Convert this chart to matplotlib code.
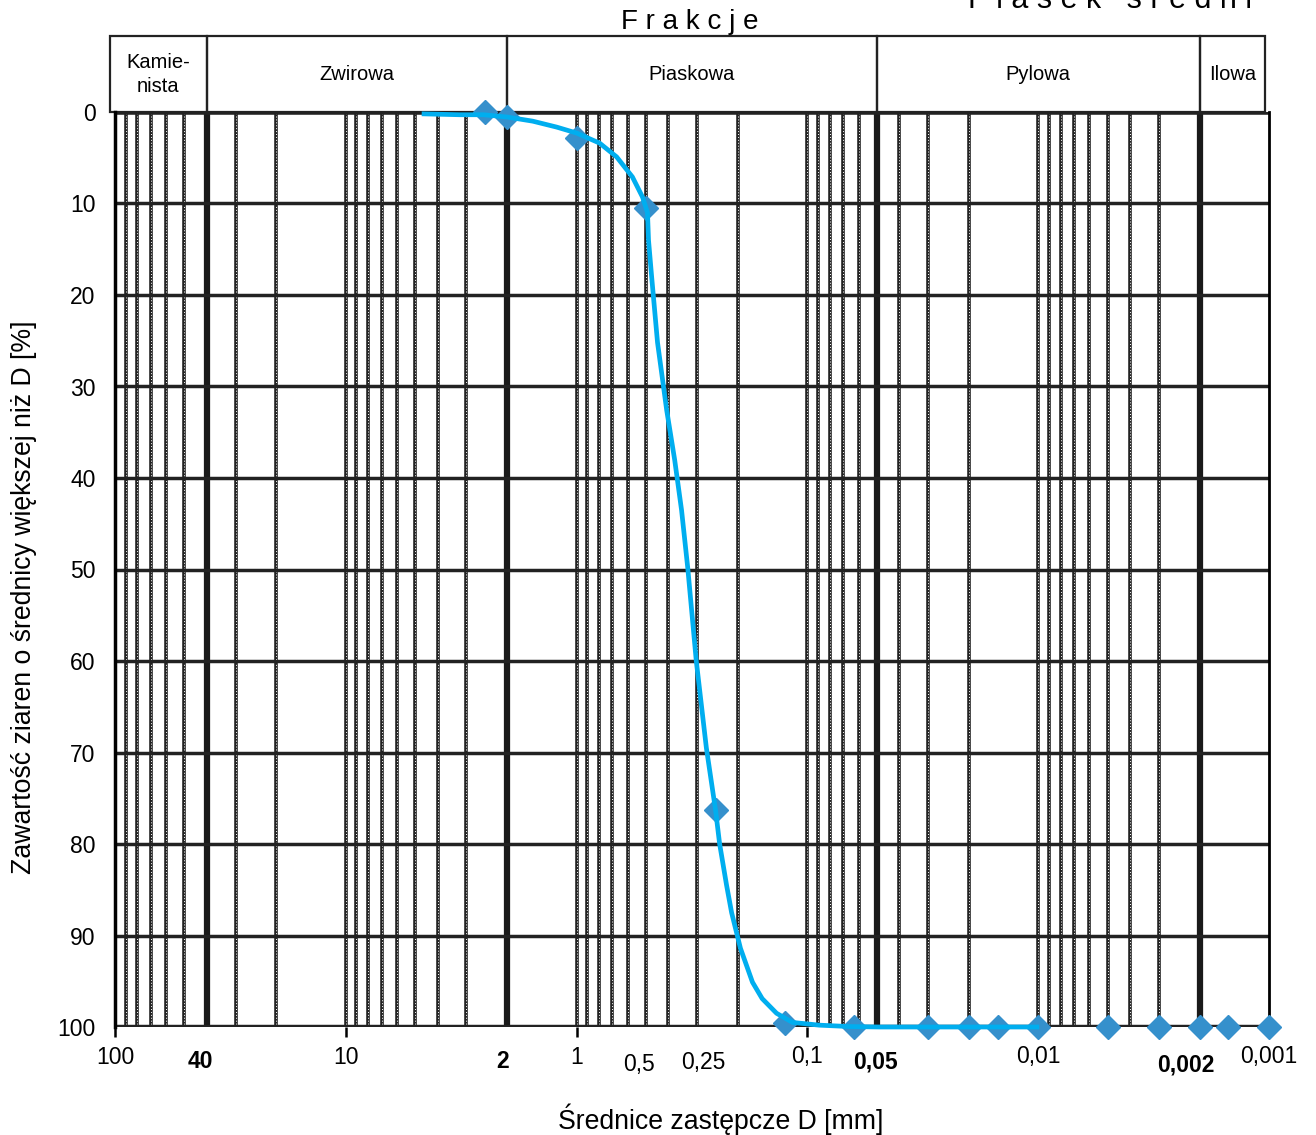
import numpy as np
import matplotlib.pyplot as plt
from matplotlib.transforms import blended_transform_factory
from matplotlib.patches import Rectangle

plt.rcParams['font.family'] = ['Liberation Sans', 'DejaVu Sans']

# punkty pomiarowe: srednica [mm] i zawartosc [%]
sito_d = [2.5, 2.0, 1.0, 0.5, 0.25, 0.125, 0.063, 0.03, 0.02, 0.015,
          0.01, 0.005, 0.003, 0.002, 0.0015, 0.001]
sito_p = [0, 0.5, 2.8, 10.5, 76.3, 99.6, 100, 100, 100, 100,
          100, 100, 100, 100, 100, 100]

# krzywa uziarnienia
krzywa_d = [4.69, 3.21, 2.53, 2.0, 1.55, 1.22, 1.0, 0.795, 0.671, 0.573,
            0.518, 0.493, 0.488, 0.473, 0.446, 0.407, 0.376, 0.351, 0.33,
            0.303, 0.274, 0.25, 0.24, 0.224, 0.213, 0.195, 0.173, 0.157,
            0.136, 0.116, 0.0887, 0.0658, 0.0489, 0.0099]
krzywa_p = [0.2, 0.3, 0.3, 0.55, 1.0, 1.65, 2.3, 3.4, 4.9, 7.1,
            9.3, 11.0, 14.0, 18.0, 25.2, 32.6, 38.0, 43.5, 49.8,
            60.0, 69.5, 76.3, 80.0, 84.5, 87.5, 91.4, 95.1, 96.9,
            98.5, 99.5, 99.8, 99.95, 100, 100]

frakcje = ['Kamie-\nnista', 'Zwirowa', 'Piaskowa', 'Pylowa', 'Ilowa']
granice = [40, 2, 0.05, 0.002]

x_ticks = [100, 40, 10, 2, 1, 0.5, 0.25, 0.1, 0.05, 0.01, 0.002, 0.001]
x_labels = ['100', '40', '10', '2', '1', '0,5', '0,25', '0,1', '0,05',
            '0,01', '0,002', '0,001']
x_bold = ['40', '2', '0,05', '0,002']
y_ticks = list(range(0, 101, 10))

# przesuniecia etykiet osi x [px] (dx, dy)
przes = {'40': (-6, 35), '2': (-5, 35), '0,5': (-7, 38), '0,25': (-12, 35),
         '0,05': (-1, 35), '0,002': (-14, 38)}

fig = plt.figure(figsize=(13.16, 11.35), dpi=100)
ax = fig.add_axes([115/1316, 108/1135, 1154/1316, 915/1135])
ax.set_xscale('log')
ax.set_xlim(100, 0.001)
ax.set_ylim(100, 0)

# siatka logarytmiczna
for dec in [10.0, 1.0, 0.1, 0.01, 0.001]:
    for k in range(1, 10):
        v = k * dec
        if v <= 0.001 or v >= 100:
            continue
        ax.axvline(v, color='#222222', lw=2.6, zorder=1)
        ax.axvline(v, color='white', lw=0.7, ls=(0, (1, 2)), zorder=1.1)
for g in granice:
    ax.axvline(g, color='#1a1a1a', lw=4.5, zorder=1.2)
for y in y_ticks[1:-1]:
    ax.axhline(y, color='#222222', lw=2.5, zorder=1.3)
ax.axhline(0, color='#222222', lw=4, zorder=1.3)
ax.axhline(100, color='#222222', lw=3.2, zorder=1.3)

for s in ['top', 'bottom']:
    ax.spines[s].set_visible(False)
ax.spines['left'].set_linewidth(2.5)
ax.spines['right'].set_linewidth(2.0)

ax.plot(sito_d, sito_p, ls='none', marker='D', ms=12, color='#3590cc',
        zorder=3, clip_on=False)
ax.plot(krzywa_d, krzywa_p, color='#00aeef', lw=3.4, zorder=4,
        solid_joinstyle='round', solid_capstyle='butt', clip_on=False)

# osie
ax.set_yticks(y_ticks)
ax.set_yticklabels([str(v) for v in y_ticks], fontsize=16.5)
ax.tick_params(axis='y', length=0, pad=14)
ax.set_xticks([100, 10, 1, 0.1, 0.01, 0.001])
ax.set_xticklabels([])
ax.xaxis.set_minor_locator(plt.NullLocator())
ax.tick_params(axis='x', length=7, width=1.8, direction='out')

for v, lab in zip(x_ticks, x_labels):
    dx, dy = przes.get(lab, (0, 30))
    ax.annotate(lab, xy=(v, 0), xycoords=('data', 'axes fraction'),
                xytext=(dx * 0.72, -dy * 0.72), textcoords='offset points',
                ha='center', va='center', fontsize=16.5,
                fontweight='bold' if lab in x_bold else 'normal')

ax.set_xlabel('Średnice zastępcze D [mm]', fontsize=19.2)
ax.xaxis.set_label_coords(0.525, -0.084)
ax.set_ylabel('Zawartość ziaren o średnicy większej niż D [%]', fontsize=19.2)
ax.yaxis.set_label_coords(-0.0676, 0.47)

# naglowek frakcji
tr = blended_transform_factory(ax.transData, ax.transAxes)
krawedzie = [105] + granice + [0.00104]
for i, nazwa in enumerate(frakcje):
    x0, x1 = krawedzie[i], krawedzie[i + 1]
    ax.add_patch(Rectangle((x0, 1.0), x1 - x0, 0.083, transform=tr,
                           fill=False, ec='#222222', lw=1.6, clip_on=False))
    ax.text(np.sqrt(x0 * x1), 1.041, nazwa, transform=tr, ha='center',
            va='center', fontsize=14.5, linespacing=1.3)

fig.text(690/1316, 1 - 22/1135, 'F r a k c j e', ha='center', va='center',
         fontsize=20)
fig.text(1110/1316, 1 - 8/1135, 'P i a s e k   ś r e d n i', ha='center',
         va='baseline', fontsize=22)

fig.savefig('out.png', dpi=100)
